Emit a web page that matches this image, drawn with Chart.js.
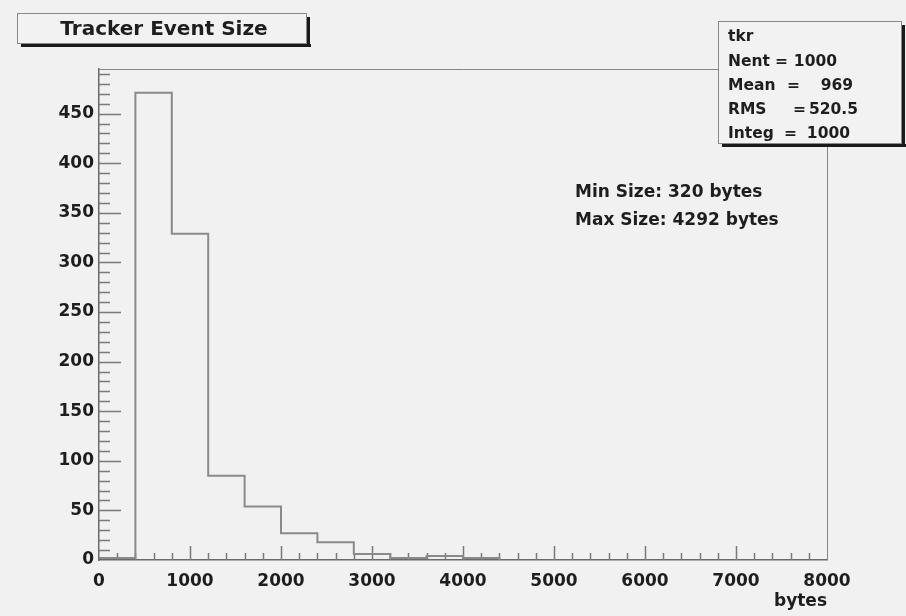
<!DOCTYPE html>
<html>
<head>
<meta charset="utf-8">
<script src="https://cdn.jsdelivr.net/npm/chart.js@4.4.0/dist/chart.umd.min.js"></script>
<style>
  html, body { margin: 0; padding: 0; background: #f1f1f1; }
  #wrap { width: 906px; height: 616px; }
</style>
</head>
<body>
<div id="wrap"><canvas id="chart" width="906" height="616"></canvas></div>
<script>
// histogram data (bins of 400 bytes)
const binEdges = [0, 400, 800, 1200, 1600, 2000, 2400, 2800, 3200, 3600, 4000, 4400];
const binCounts = [2, 471, 329, 85, 54, 27, 18, 6, 2, 4, 2];
const xTickValues = [0, 1000, 2000, 3000, 4000, 5000, 6000, 7000, 8000];
const yTickValues = [0, 50, 100, 150, 200, 250, 300, 350, 400, 450];
const xRange = [0, 8000];
const yRange = [0, 495];

const titleText = "Tracker Event Size";
const histName = "tkr";
const statNames = ["Nent", "Mean", "RMS", "Integ"];
const statValues = ["1000", "969", "520.5", "1000"];
const notes = ["Min Size: 320 bytes", "Max Size: 4292 bytes"];
const xAxisTitle = "bytes";

const FONT = "'DejaVu Sans', sans-serif";
const TEXT = "#1e1e1e";
const GRAY = "#7a7a7a";

// step outline points built from bins
const stepPoints = binCounts.map((c, i) => ({ x: binEdges[i], y: c }));
stepPoints.push({ x: binEdges[binEdges.length - 1], y: binCounts[binCounts.length - 1] });
stepPoints.push({ x: binEdges[binEdges.length - 1], y: 0 });

const rootStyle = {
  id: "rootStyle",
  beforeDraw(chart) {
    const { ctx, width, height } = chart;
    ctx.save();
    ctx.fillStyle = "#f1f1f1";
    ctx.fillRect(0, 0, width, height);
    ctx.restore();
  },
  beforeDatasetsDraw(chart) {
    const { ctx, chartArea: a, scales: { x, y } } = chart;
    ctx.save();
    // frame
    ctx.strokeStyle = "#858585";
    ctx.lineWidth = 1;
    ctx.beginPath();
    ctx.moveTo(a.left, a.top + 0.5);
    ctx.lineTo(a.right + 0.5, a.top + 0.5);
    ctx.lineTo(a.right + 0.5, a.bottom);
    ctx.stroke();
    // ticks pointing into the frame
    ctx.strokeStyle = GRAY;
    ctx.lineWidth = 1.5;
    ctx.beginPath();
    for (let v = 10; v <= yRange[1]; v += 10) {
      const py = Math.round(y.getPixelForValue(v)) + 0.5;
      const len = v % 50 === 0 ? 22 : 11;
      ctx.moveTo(a.left, py);
      ctx.lineTo(a.left + len, py);
    }
    for (let v = 200; v < xRange[1]; v += 200) {
      const px = Math.round(x.getPixelForValue(v)) + 0.5;
      const len = v % 1000 === 0 ? 14 : 7;
      ctx.moveTo(px, a.bottom);
      ctx.lineTo(px, a.bottom - len);
    }
    ctx.stroke();
    ctx.restore();
  },
  afterDraw(chart) {
    const { ctx } = chart;
    ctx.save();
    const box = (x0, y0, x1, y1) => {
      ctx.fillStyle = "#1a1a1a";
      ctx.fillRect(x0 + 4, y1, x1 - x0, 3);
      ctx.fillRect(x1, y0 + 4, 3, y1 - y0 - 1);
      ctx.fillStyle = "#f2f2f2";
      ctx.fillRect(x0, y0, x1 - x0, y1 - y0);
      ctx.strokeStyle = "#8a8a8a";
      ctx.lineWidth = 1;
      ctx.strokeRect(x0 + 0.5, y0 + 0.5, x1 - x0 - 1, y1 - y0 - 1);
      ctx.fillStyle = TEXT;
    };
    ctx.textBaseline = "alphabetic";

    // title box
    box(17, 13, 307, 44);
    ctx.font = "bold 20px " + FONT;
    ctx.textAlign = "center";
    ctx.fillText(titleText, 164, 35);

    // stats box
    box(718, 21, 902, 144);
    ctx.font = "bold 15.5px " + FONT;
    ctx.textAlign = "left";
    ctx.fillText(histName, 728, 41);
    const eqX = [775, 787, 793, 784];
    const valRight = [837, 853, 858, 850];
    statNames.forEach((n, i) => {
      const by = 65.5 + i * 24.3;
      ctx.textAlign = "left";
      ctx.fillText(n, 728, by);
      ctx.fillText("=", eqX[i], by);
      ctx.textAlign = "right";
      ctx.fillText(statValues[i], valRight[i], by);
    });

    // annotations
    ctx.font = "bold 17px " + FONT;
    ctx.textAlign = "left";
    notes.forEach((t, i) => ctx.fillText(t, 575, 197 + i * 28));
    ctx.restore();
  }
};

new Chart(document.getElementById("chart"), {
  type: "line",
  data: {
    datasets: [{
      data: stepPoints,
      stepped: "before",
      borderColor: "#8a8a8a",
      borderWidth: 2,
      pointRadius: 0,
      fill: false
    }]
  },
  options: {
    responsive: false,
    animation: false,
    layout: { padding: { top: 69, right: 79, left: 0, bottom: 0 } },
    plugins: { legend: { display: false }, tooltip: { enabled: false } },
    scales: {
      x: {
        type: "linear",
        min: xRange[0],
        max: xRange[1],
        afterBuildTicks: (s) => { s.ticks = xTickValues.map((v) => ({ value: v })); },
        afterFit: (s) => { s.height = 56; },
        grid: { display: false, drawTicks: false },
        border: { display: true, color: "#6a6a6a", width: 1.5 },
        ticks: {
          padding: 11, autoSkip: false, maxRotation: 0,
          callback: (v) => String(v),
          color: TEXT, font: { family: FONT, size: 17, weight: "bold" }
        },
        title: {
          display: true, text: xAxisTitle, align: "end", color: TEXT,
          font: { family: FONT, size: 17, weight: "bold" },
          padding: { top: 0, bottom: 4 }
        }
      },
      y: {
        min: yRange[0],
        max: yRange[1],
        afterBuildTicks: (s) => { s.ticks = yTickValues.map((v) => ({ value: v })); },
        afterFit: (s) => { s.width = 99; },
        grid: { display: false, drawTicks: false },
        border: { display: true, color: "#6a6a6a", width: 1.5 },
        ticks: {
          padding: 5, color: TEXT,
          callback: (v) => String(v),
          font: { family: FONT, size: 17, weight: "bold" }
        }
      }
    }
  },
  plugins: [rootStyle]
});
</script>
</body>
</html>
